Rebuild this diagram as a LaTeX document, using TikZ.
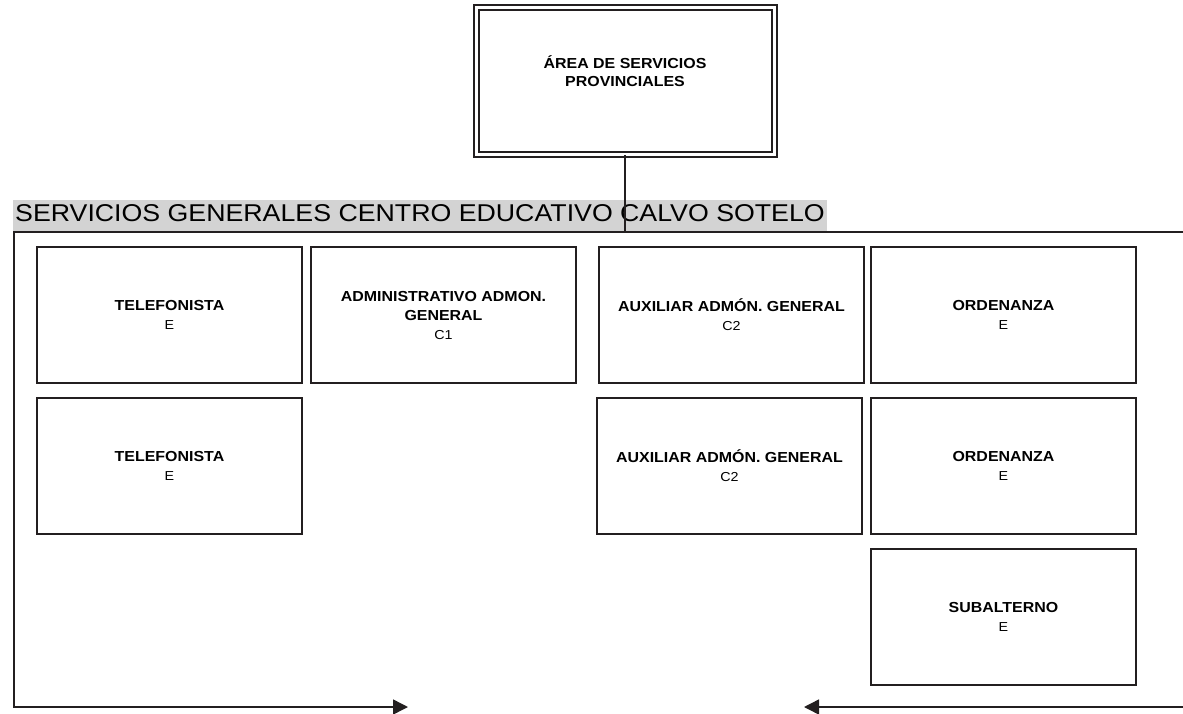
\documentclass[tikz,border=0pt]{standalone}
\usepackage{fontspec}
\setmainfont[FakeStretch=1.1]{Liberation Sans}
\usetikzlibrary{arrows.meta}
\definecolor{ln}{RGB}{35,31,32}
\definecolor{band}{RGB}{211,211,211}
\newcommand{\bt}{\fontsize{14.5}{19}\selectfont\bfseries}
\tikzset{
  posbox/.style={draw=ln, line width=1.6pt, minimum width=265pt, minimum height=136pt,
    inner sep=0pt, align=center, font=\fontsize{13}{19}\selectfont},
  conn/.style={draw=ln, line width=1.5pt},
  tip/.style={-{Triangle[length=15pt,width=15pt]}}
}
\begin{document}
\begin{tikzpicture}[x=1pt,y=-1pt]
\useasboundingbox (0,0) rectangle (1183,714);
% top unit
\node[draw=ln, line width=1.3pt, double=white, double distance=3.5pt,
  minimum width=298pt, minimum height=147pt, inner sep=0pt] (top) at (625.5,81) {};
\node[align=center, font=\fontsize{14.5}{18.5}\selectfont\bfseries] (toplabel) at (625,71)
  {ÁREA DE SERVICIOS\\PROVINCIALES};
% title band
\node[fill=band, anchor=west, inner xsep=2pt, inner ysep=5pt, text height=17pt, text depth=5pt,
  font=\fontsize{24.3}{28}\selectfont] (title) at (13,216)
  {SERVICIOS GENERALES CENTRO EDUCATIVO CALVO SOTELO};
% frame
\coordinate (tl) at (13,232);
\coordinate (tr) at (1183,232);
\coordinate (bl) at (14,707);
\coordinate (ltip) at (408,707);
\coordinate (rend) at (1183,707);
\coordinate (rtip) at (804,707);
\coordinate (join) at (625,232);
\draw[conn] (tl) -- (tr);
\draw[conn] (top.south -| join) -- (join);
\draw[conn, tip] (14,232) -- (bl) -- (ltip);
\draw[conn, tip] (rend) -- (rtip);
% positions
\node[posbox] (tel1) at (169.5,315) {{\bt TELEFONISTA}\\E};
\node[posbox] (adm)  at (443.5,315) {{\bt ADMINISTRATIVO ADMON.}\\{\bt GENERAL}\\C1};
\node[posbox] (aux1) at (731.5,315) {{\bt AUXILIAR ADMÓN. GENERAL}\\C2};
\node[posbox] (ord1) at (1003.5,315){{\bt ORDENANZA}\\E};
\node[posbox] (tel2) at (169.5,466) {{\bt TELEFONISTA}\\E};
\node[posbox] (aux2) at (729.5,466) {{\bt AUXILIAR ADMÓN. GENERAL}\\C2};
\node[posbox] (ord2) at (1003.5,466){{\bt ORDENANZA}\\E};
\node[posbox] (sub)  at (1003.5,617){{\bt SUBALTERNO}\\E};
\end{tikzpicture}
\end{document}
